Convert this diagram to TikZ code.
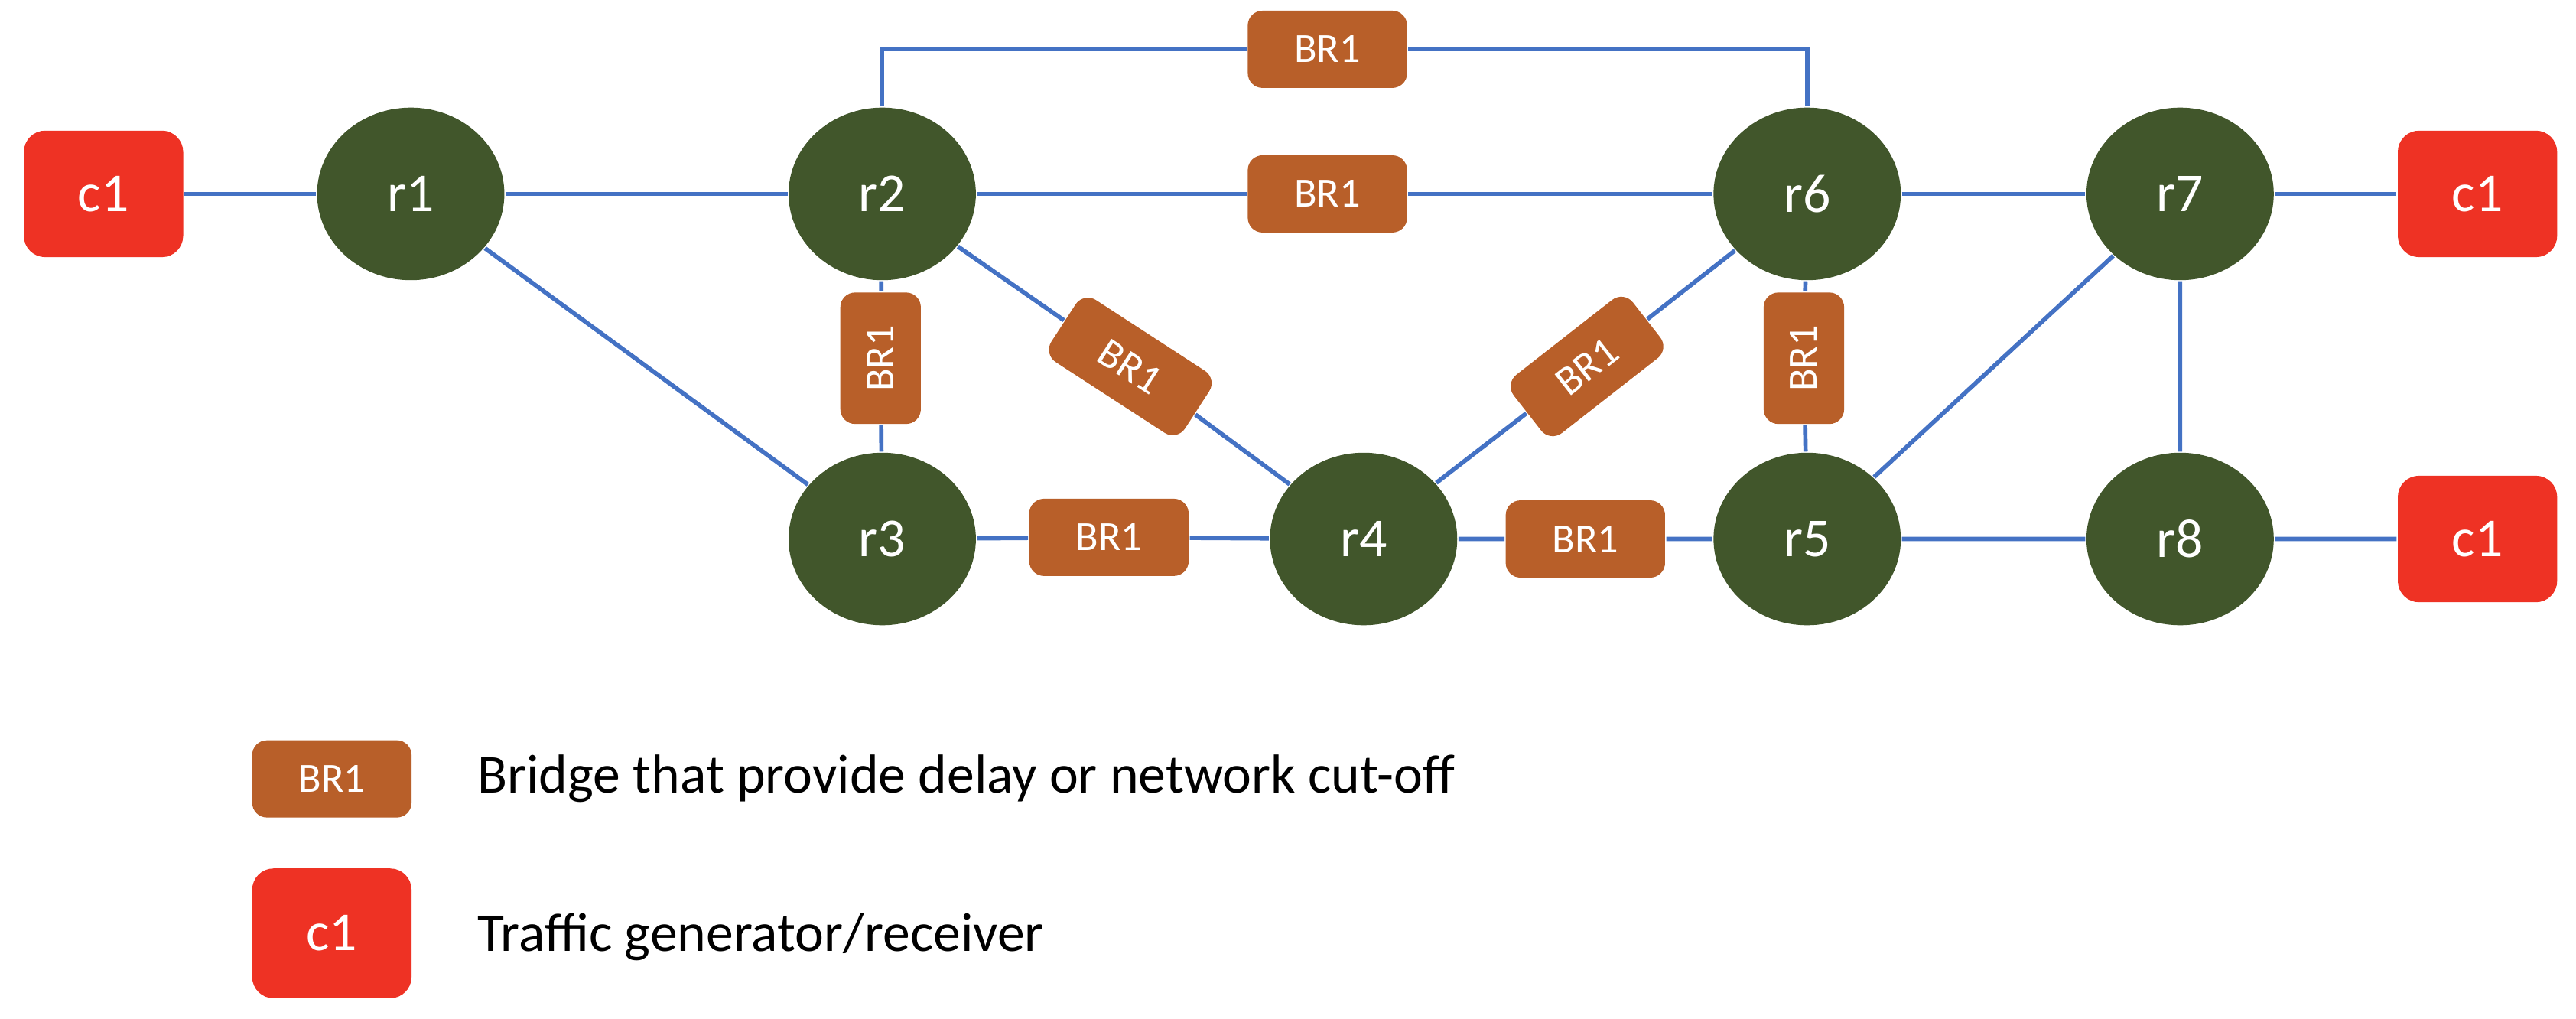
\documentclass[tikz,border=0pt]{standalone}
\usepackage{fontspec}
\setmainfont{Carlito}
\usetikzlibrary{shapes.geometric}

\definecolor{routergreen}{HTML}{41562B}
\definecolor{bridgebrown}{HTML}{B85F29}
\definecolor{clientred}{HTML}{EE3224}
\definecolor{linkblue}{HTML}{4472C4}

\tikzset{
  router/.style={ellipse, fill=routergreen, text=white, minimum width=1.14cm, minimum height=1.05cm, inner sep=0pt, font=\fontsize{9.5}{11}\selectfont},
  client/.style={rectangle, rounded corners=0.13cm, fill=clientred, text=white, minimum width=0.97cm, minimum height=0.77cm, inner sep=0pt, font=\fontsize{9.5}{11}\selectfont},
  bridge/.style={rectangle, rounded corners=0.09cm, fill=bridgebrown, text=white, minimum width=0.97cm, minimum height=0.47cm, inner sep=0pt, font=\fontsize{7.2}{8}\selectfont},
  vbridge/.style={bridge, minimum width=0.80cm, minimum height=0.49cm, rotate=90},
  link/.style={linkblue, line width=0.75pt},
}

\begin{document}
\begin{tikzpicture}
  \useasboundingbox (0,0) rectangle (15.68,6.20);
  % routers
  \node[router] (r1) at (2.50,5.02) {r1};
  \node[router] (r2) at (5.37,5.02) {r2};
  \node[router] (r6) at (11.00,5.02) {r6};
  \node[router] (r7) at (13.27,5.02) {r7};
  \node[router] (r3) at (5.37,2.92) {r3};
  \node[router] (r4) at (8.30,2.92) {r4};
  \node[router] (r5) at (11.00,2.92) {r5};
  \node[router] (r8) at (13.27,2.92) {r8};
  % clients
  \node[client] (c1a) at (0.63,5.02) {c1};
  \node[client] (c1b) at (15.08,5.02) {c1};
  \node[client] (c1c) at (15.08,2.92) {c1};
  % bridges
  \node[bridge] (br26top) at (8.08,5.90) {BR1};
  \node[bridge] (br26) at (8.08,5.02) {BR1};
  \node[vbridge] (br23) at (5.36,4.02) {BR1};
  \node[bridge, minimum height=0.45cm, rotate=-33] (br24) at (6.88,3.97) {BR1};
  \node[bridge, minimum width=0.92cm, minimum height=0.45cm, rotate=38] (br46) at (9.66,3.97) {BR1};
  \node[vbridge] (br65) at (10.98,4.02) {BR1};
  \node[bridge] (br34) at (6.75,2.93) {BR1};
  \node[bridge] (br45) at (9.65,2.92) {BR1};
  \coordinate (k2) at (5.37,5.90);
  \coordinate (k6) at (11.00,5.90);

  % links
  \draw[link] (c1a) -- (r1) -- (r2) -- (br26) -- (r6) -- (r7) -- (c1b);
  \draw[link] (r2) -- (k2) -- (br26top) -- (k6) -- (r6);
  \draw[link] (r1) -- (r3);
  \draw[link] (r2) -- (br23) -- (r3);
  \draw[link] (r2) -- (br24) -- (r4);
  \draw[link] (r3) -- (br34) -- (r4) -- (br45) -- (r5) -- (r8) -- (c1c);
  \draw[link] (r4) -- (br46) -- (r6);
  \draw[link] (r6) -- (br65) -- (r5);
  \draw[link] (r5) -- (r7) -- (r8);

  % legend
  \node[bridge] (keybr) at (2.02,1.46) {BR1};
  \node[client, minimum height=0.79cm] (keyc) at (2.02,0.52) {c1};
  \node[anchor=west, inner sep=0pt, font=\fontsize{9.5}{11}\selectfont] (keybrtext) at (2.90,1.46) {Bridge that provide delay or network cut-off};
  \node[anchor=west, inner sep=0pt, font=\fontsize{9.5}{11}\selectfont] (keyctext) at (2.90,0.50) {Traffic generator/receiver};
\end{tikzpicture}
\end{document}
